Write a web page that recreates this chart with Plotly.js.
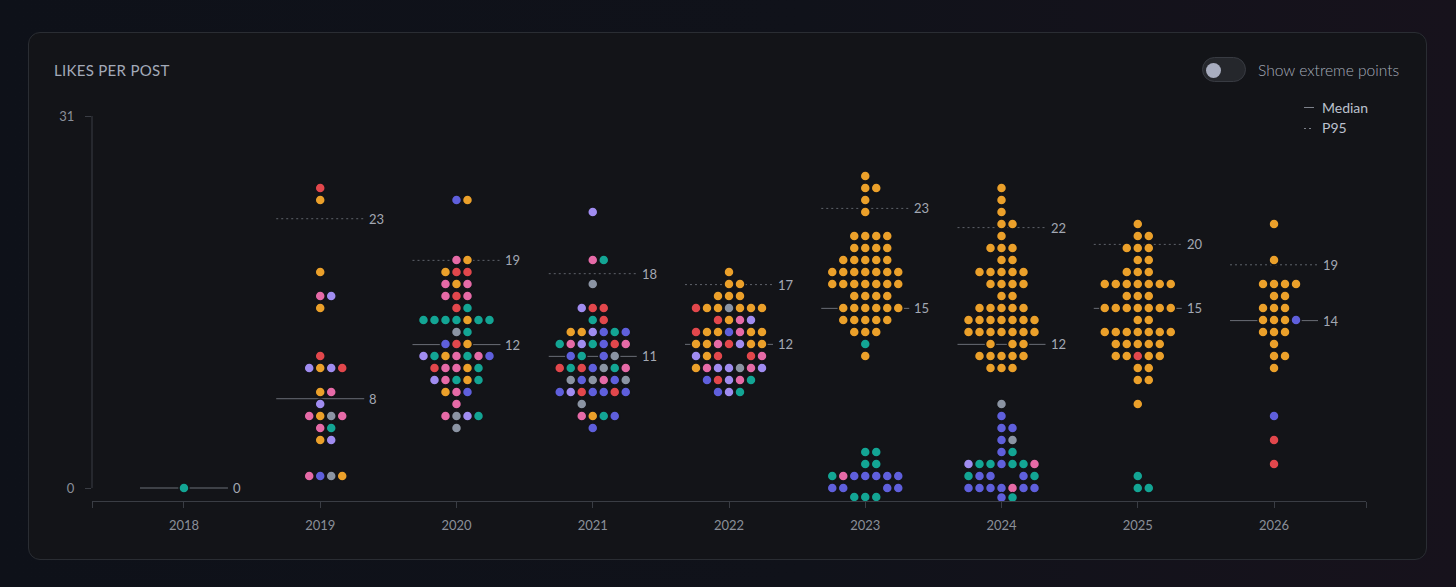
<!DOCTYPE html>
<html><head><meta charset="utf-8">
<script src="https://cdn.plot.ly/plotly-3.0.1.min.js"></script>
<style>
html,body{margin:0;padding:0;width:1456px;height:587px;overflow:hidden;
  background:linear-gradient(90deg,#0e1119 0%,#10121a 55%,#17121c 100%);font-family:Lato,'Open Sans',sans-serif;}
#panel{position:absolute;left:28px;top:32px;width:1399px;height:528px;box-sizing:border-box;border:1px solid #2a2d33;border-radius:12px;background:#131418;}
#chart{position:absolute;left:0;top:0;width:1456px;height:587px;}
.txt{position:absolute;white-space:nowrap;}
#title{left:54px;top:61px;line-height:18px;font-size:15px;color:#a3aab8;letter-spacing:0.3px;}
#toggle{position:absolute;left:1202px;top:57px;width:44px;height:25px;box-sizing:border-box;border-radius:13px;background:#25272c;border:1px solid #383b42;}
#knob{position:absolute;left:1206px;top:62.5px;width:15px;height:15px;border-radius:50%;background:#a8adbf;}
#tglText{left:1258px;top:60px;line-height:20px;font-size:15.6px;font-weight:300;color:#a6acb9;}
.lgMark{position:absolute;left:1304px;width:10px;height:1px;}
#lgMed{top:107px;background:#7d818a;}
#lgP95{top:127.5px;background:repeating-linear-gradient(90deg,#7d818a 0,#7d818a 2px,transparent 2px,transparent 5px);}
#lgMedTxt{left:1322px;top:99px;line-height:18px;font-size:14px;color:#bcc1ce;}
#lgP95Txt{left:1322px;top:119px;line-height:18px;font-size:14px;color:#bcc1ce;}
</style></head><body>
<div id="panel"></div>
<div id="chart"></div>
<div id="title" class="txt">LIKES PER POST</div>
<div id="toggle"></div><div id="knob"></div>
<div id="tglText" class="txt">Show extreme points</div>
<div id="lgMed" class="lgMark"></div><div id="lgMedTxt" class="txt">Median</div>
<div id="lgP95" class="lgMark"></div><div id="lgP95Txt" class="txt">P95</div>
<script>
// ---- data ----
const years = ["2018","2019","2020","2021","2022","2023","2024","2025","2026"];
const medianValues = [0, 7.44, 11.95, 10.97, 11.97, 14.97, 11.97, 14.97, 13.95];
const medianLabels = ["0","8","12","11","12","15","12","15","14"];
const p95Values = [null, 22.44, 18.97, 17.86, 16.95, 23.3, 21.7, 20.3, 18.6];
const p95Labels = [null,"23","19","18","17","23","22","20","19"];
const yTickVals = [0, 31];

// rows: [likes, colour codes left to right; "." = empty slot]
const rows2018 = [[0,"T"]];
const rows2019 = [[25,"R"],[24,"O"],[18,"O"],[16,"PV"],[15,"O"],[11,"R"],[10,"VOVR"],[8,"OP"],[7,"V"],[6,"POGP"],[5,"PT"],[4,"OV"],[1,"PBGO"]];
const rows2020 = [[24,"BO"],[19,"PO"],[18,"ORR"],[17,"POP"],[16,"PRP"],[15,"RT"],[14,"TTTTOTT"],[13,"GT"],[12,"BRO"],[11,"VTOPTPB"],[10,"RPPOT"],[9,"VPTOT"],[8,"OPB"],[7,"P"],[6,"PGVT"],[5,"G"]];
const rows2021 = [[23,"V"],[19,"PT"],[17,"G"],[15,"VRR"],[14,"TR"],[13,"OOVBTB"],[12,"TPVTBRP"],[11,"BT.BG"],[10,"RTRBGTP"],[9,"GBGPBG"],[8,"BVRBBRB"],[7,"G.."],[6,"POTB"],[5,"B"]];
const rows2022 = [[18,"O"],[17,"OO"],[16,"OOO"],[15,"ROOGOOO"],[14,"ROPV"],[13,"ROOBPOO"],[12,"OOPRVOO"],[11,"VOR..RP"],[10,"OPVVGPV"],[9,"BRVPT"],[8,"BVT"]];
const rows2023 = [[26,"O"],[25,"OO"],[24,"O"],[23,"O"],[21,"OOOO"],[20,"OOOO"],[19,"OOOOO"],[18,"OOOOOOO"],[17,"OOOOOOO"],[16,"OOOO"],[15,"OOOOOO"],[14,"OOOOO"],[13,"OOO"],[12,"T"],[11,"O"],[3,"TT"],[2,"TT"],[1,"TPBBBBB"],[0,"BB...BB"],[-0.75,"TTT"]];
const rows2024 = [[25,"O"],[24,"O"],[23,"O"],[22,"OO"],[21,"O"],[20,"OOO"],[19,"OO"],[18,"OOOOO"],[17,"OOOO"],[16,"OO"],[15,"OOOOO"],[14,"OOOOOOO"],[13,"OOOOOOO"],[12,"O.OO"],[11,"OOOOO"],[10,"OOO"],[7,"G"],[6,"B"],[5,"BB"],[4,"BG"],[3,"BT"],[2,"VTTBTTP"],[1,"TBB..BT"],[0,"BBBBPBB"],[-0.8,"BT"]];
const rows2025 = [[22,"O"],[21,"OO"],[20,"OOO"],[19,"OO"],[18,"OOO"],[17,"OOOOOOO"],[16,"OOO"],[15,"OOOOOOO"],[14,"OO"],[13,"OOOOOOO"],[12,"OOOOO"],[11,"OOROO"],[10,"OO"],[9,"OO"],[7,"O"],[1,"T"],[0,"TT"]];
const rows2026 = [[22,"O"],[19,"O"],[17,"OOOO"],[16,"OO"],[15,"OOO"],[14,"OOOB"],[13,"OOO"],[12,"O"],[11,"OO"],[10,"O"],[6,"B"],[4,"R"],[2,"R"]];
const allRows = [rows2018,rows2019,rows2020,rows2021,rows2022,rows2023,rows2024,rows2025,rows2026];

const colorMap = {O:'#eba02a', R:'#e2474c', P:'#e66aa7', V:'#a08cf0', B:'#5f5fdc', T:'#13a594', G:'#8b94a3'};

// ---- layout helpers ----
const XMIN = -0.675, XMAX = 8.675;
const PLOT_W = 1274;
const PX = PLOT_W / (XMAX - XMIN);
const DX = 11 / PX;       // slot spacing
const HALF = 44 / PX;     // half width of median / p95 lines

const dx=[], dy=[], dc=[];
allRows.forEach((rows, i) => {
  rows.forEach(([v, s]) => {
    const n = s.length;
    const start = (n % 2) ? -(n - 1) / 2 : -(n / 2 - 1);
    for (let k = 0; k < n; k++) {
      const ch = s[k];
      if (ch === '.') continue;
      dx.push(i + (start + k) * DX); dy.push(v); dc.push(colorMap[ch]);
    }
  });
});

const mx=[], my=[], px=[], py=[];
const annotations = [];
const labelFont = {family:'Lato, Open Sans, sans-serif', size:13, color:'#a3a8b3'};
years.forEach((yr, i) => {
  mx.push(i - HALF, i + HALF, null); my.push(medianValues[i], medianValues[i], null);
  annotations.push({x: i + HALF, y: medianValues[i], xref:'x', yref:'y', text: medianLabels[i],
    showarrow:false, xanchor:'left', yanchor:'middle', xshift:3, font: labelFont});
  if (p95Values[i] !== null) {
    px.push(i - HALF, i + HALF, null); py.push(p95Values[i], p95Values[i], null);
    annotations.push({x: i + HALF, y: p95Values[i], xref:'x', yref:'y', text: p95Labels[i],
      showarrow:false, xanchor:'left', yanchor:'middle', xshift:3, font: labelFont});
  }
});

const traces = [
  {x: px, y: py, mode:'lines', line:{color:'#5f636b', width:1, dash:'2px,3px'}, hoverinfo:'skip', showlegend:false},
  {x: mx, y: my, mode:'lines', line:{color:'#6a6e76', width:1}, hoverinfo:'skip', showlegend:false},
  {x: dx, y: dy, mode:'markers', marker:{size:10, color: dc, line:{color:'#131418', width:1.5}}, hoverinfo:'skip', showlegend:false}
];

const tickFont = {family:'Lato, Open Sans, sans-serif', size:13, color:'#8a8f99'};
const layout = {
  width:1456, height:587,
  margin:{l:92, r:90, t:116, b:86, pad:0},
  paper_bgcolor:'rgba(0,0,0,0)', plot_bgcolor:'rgba(0,0,0,0)',
  showlegend:false,
  xaxis:{range:[XMIN, XMAX], tickvals:[XMIN].concat(years.map((_, i) => i), [XMAX]),
    ticktext:[''].concat(years, ['']), ticks:'outside', ticklen:6, tickcolor:'#3a3d44',
    showline:true, linecolor:'#3a3d44', linewidth:1, showgrid:false, zeroline:false,
    tickfont: tickFont, ticklabelstandoff:6, fixedrange:true},
  yaxis:{range:[-1.083, 31], tickvals: yTickVals, ticktext: yTickVals.map(String), ticks:'outside', ticklen:6,
    tickcolor:'#3a3d44', showline:false, showgrid:false, zeroline:false, tickfont: tickFont,
    ticklabelstandoff:8, fixedrange:true},
  shapes:[{type:'line', xref:'paper', yref:'y', x0:0, x1:0, y0:0, y1:31, line:{color:'#3a3d44', width:1}}],
  annotations: annotations
};
Plotly.newPlot('chart', traces, layout, {displayModeBar:false, staticPlot:true});
</script></body></html>
